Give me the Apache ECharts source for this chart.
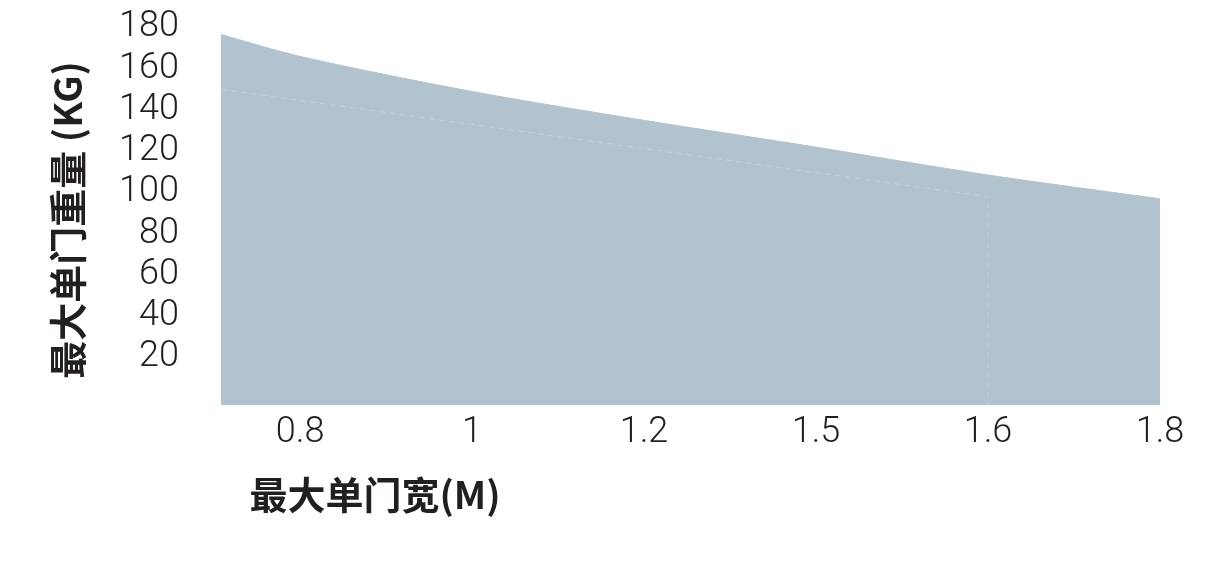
<!DOCTYPE html>
<html lang="zh">
<head>
  <meta charset="UTF-8">
  <title>最大单门重量</title>
  <style>
    * { margin: 0; padding: 0; }
    body { background: #ffffff; }
    #chart { width: 1229px; height: 575px; }
  </style>
</head>
<body>
  <div id="chart"></div>
  <script src="https://cdn.jsdelivr.net/npm/echarts@6/dist/echarts.min.js"></script>
  <script type="text/javascript">
  // x positions are tick indexes (0 = 0.8 ... 5 = 1.8), the curve starts a bit before the first tick
  var xTickLabels = ['0.8', '1', '1.2', '1.5', '1.6', '1.8'];
  var xTickPos = [0, 1, 2, 3, 4, 5];
  var yTickValues = [20, 40, 60, 80, 100, 120, 140, 160, 180];

  // upper envelope (smooth)
  var upperX = [-0.46, 0, 1, 2, 3, 4, 5];
  var upperY = [174.7, 164, 147, 133, 120, 106.5, 95];

  // lower band, straight, ends at 1.6
  var lowerX = [-0.46, 4, 4];
  var lowerY = [148, 96, -5];

  var areaColor = '#b1c3ce';
  var textColor = '#231f20';

  function pairs (xs, ys) {
    return xs.map(function (x, i) { return [x, ys[i]]; });
  }

  function main () {
    var chart = echarts.init(document.getElementById('chart'));
    var tickFont = {
      fontSize: 36,
      fontFamily: 'Roboto',
      fontWeight: 300,
      color: textColor
    };
    var option = {
      animation: false,
      grid: { left: 221, right: 69, top: 23.4, bottom: 170 },
      xAxis: {
        type: 'value',
        min: -0.46,
        max: 5,
        splitLine: { show: false },
        axisLine: { show: false },
        axisTick: { show: false },
        axisLabel: Object.assign({
          customValues: xTickPos,
          formatter: function (v) { return xTickLabels[Math.round(v)]; },
          margin: 10
        }, tickFont)
      },
      yAxis: {
        type: 'value',
        min: -5,
        max: 180,
        splitLine: { show: false },
        axisLine: { show: false },
        axisTick: { show: false },
        axisLabel: Object.assign({
          customValues: yTickValues,
          margin: 42,
          formatter: function (v) { return '{t|' + v + '}'; },
          rich: { t: Object.assign({ padding: [8, 0, 0, 0] }, tickFont) }
        }, tickFont)
      },
      series: [
        {
          type: 'line',
          data: pairs(upperX, upperY),
          smooth: 0.3,
          symbol: 'none',
          lineStyle: { width: 1, color: areaColor },
          areaStyle: { color: areaColor, opacity: 1, origin: 'start' }
        },
        {
          type: 'line',
          data: pairs(lowerX, lowerY),
          symbol: 'none',
          lineStyle: { width: 1, color: 'rgba(255,255,255,0.22)', type: [6, 4] },
          areaStyle: { color: areaColor, opacity: 1, origin: 'start' }
        }
      ],
      graphic: [
        {
          type: 'text',
          x: 68,
          y: 220,
          rotation: Math.PI / 2,
          style: {
            text: '最大单门重量 (KG)',
            align: 'center',
            verticalAlign: 'middle',
            fontSize: 38,
            fontWeight: 'bold',
            fontFamily: 'Noto Sans CJK SC',
            fill: textColor
          }
        },
        {
          type: 'text',
          x: 375,
          y: 495,
          style: {
            text: '最大单门宽(M)',
            align: 'center',
            verticalAlign: 'middle',
            fontSize: 38,
            fontWeight: 'bold',
            fontFamily: 'Noto Sans CJK SC',
            fill: textColor
          }
        }
      ]
    };
    chart.setOption(option);
  }

  window.addEventListener('load', main);
  </script>
</body>
</html>
